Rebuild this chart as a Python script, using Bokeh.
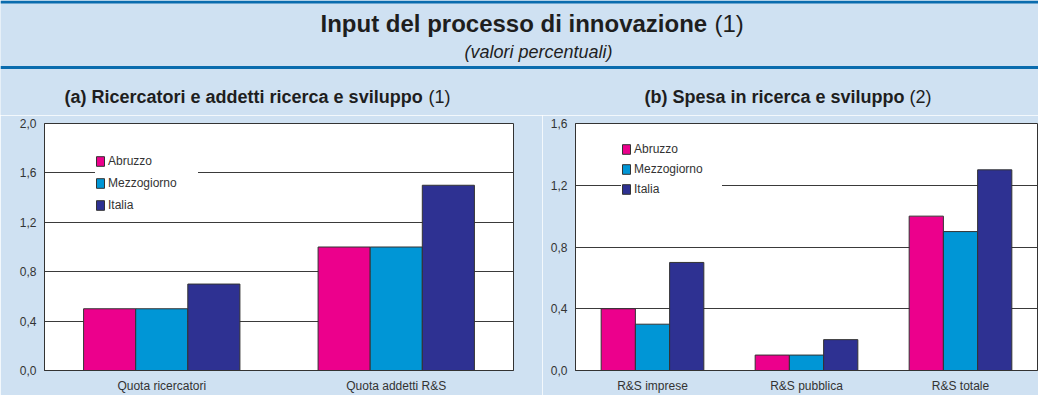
from bokeh.plotting import figure
from bokeh.models import (Range1d, FactorRange, FixedTicker, CustomJSTickFormatter,
                          Legend, LegendItem, Label, Span, ColumnDataSource)
from bokeh.transform import dodge
from bokeh.layouts import column, row
from bokeh.embed import file_html
from bokeh.resources import INLINE

# ---------------- data ----------------
series = ["Abruzzo", "Mezzogiorno", "Italia"]
series_colors = ["#EC008C", "#0096D6", "#2E3192"]

cats_a = ["Quota ricercatori", "Quota addetti R&S"]
abruzzo_a = [0.5, 1.0]
mezzogiorno_a = [0.5, 1.0]
italia_a = [0.7, 1.5]
ticks_a = [0.0, 0.4, 0.8, 1.2, 1.6, 2.0]

cats_b = ["R&S imprese", "R&S pubblica", "R&S totale"]
abruzzo_b = [0.4, 0.1, 1.0]
mezzogiorno_b = [0.3, 0.1, 0.9]
italia_b = [0.7, 0.2, 1.3]
ticks_b = [0.0, 0.4, 0.8, 1.2, 1.6]

main_title = "Input del processo di innovazione"
main_note = "(1)"
subtitle = "(valori percentuali)"
title_a = "(a) Ricercatori e addetti ricerca e sviluppo"
note_a = "(1)"
title_b = "(b) Spesa in ricerca e sviluppo"
note_b = "(2)"

# ---------------- style ----------------
BG = "#CFE1F2"
BLUE = "#0A6CAE"
DARK = "#333333"
TXT = "#1E1E1E"
FONT = "Liberation Sans"


def make_panel(cats, a, m, i, ticks, width, left, right, leg_xy, leg_pad, leg_spacing, leg_label_w):
    src = ColumnDataSource(data=dict(cat=cats, Abruzzo=a, Mezzogiorno=m, Italia=i))
    p = figure(x_range=FactorRange(factors=cats), y_range=Range1d(ticks[0], ticks[-1]),
               width=width, height=280, min_border_left=left, min_border_right=right,
               min_border_top=8, min_border_bottom=22,
               toolbar_location=None, output_backend="svg")
    p.background_fill_color = "white"
    p.border_fill_color = BG
    p.outline_line_color = DARK
    p.outline_line_width = 1

    bw = 2.0 / 9.0
    offsets = [-bw, 0.0, bw]
    items = []
    for s, c, off in zip(series, series_colors, offsets):
        r = p.vbar(x=dodge("cat", off, range=p.x_range), top=s, width=bw, source=src,
                   fill_color=c, line_color=DARK, line_width=1)
        items.append(LegendItem(label=s, renderers=[r]))

    leg = Legend(items=items, location=leg_xy, padding=leg_pad, spacing=leg_spacing,
                 margin=0, border_line_color=None, background_fill_color="white",
                 background_fill_alpha=1.0, glyph_width=10, glyph_height=12,
                 label_height=14, label_width=leg_label_w, label_standoff=3,
                 label_text_font=FONT, label_text_font_size="12px",
                 label_text_color=DARK)
    p.add_layout(leg)

    p.xgrid.visible = False
    p.ygrid.ticker = FixedTicker(ticks=ticks)
    p.ygrid.grid_line_color = "#3a3a3a"
    p.ygrid.grid_line_width = 1

    p.yaxis.ticker = FixedTicker(ticks=ticks)
    p.yaxis.formatter = CustomJSTickFormatter(code="return tick.toFixed(1).replace('.', ',');")
    p.yaxis.major_tick_out = 0
    p.yaxis.major_tick_in = 0
    p.yaxis.minor_tick_out = 0
    p.yaxis.minor_tick_in = 0
    p.yaxis.major_label_standoff = 8
    p.yaxis.axis_line_color = DARK

    p.xaxis.major_tick_out = 0
    p.xaxis.major_tick_in = 0
    p.xaxis.major_label_standoff = 8
    p.xaxis.axis_line_color = DARK

    for ax in (p.xaxis, p.yaxis):
        ax.major_label_text_font = FONT
        ax.major_label_text_font_size = "12px"
        ax.major_label_text_color = DARK
    return p


pa = make_panel(cats_a, abruzzo_a, mezzogiorno_a, italia_a, ticks_a,
                width=542, left=44, right=29, leg_xy=(51, 158), leg_pad=8,
                leg_spacing=8, leg_label_w=90)
pb = make_panel(cats_b, abruzzo_b, mezzogiorno_b, italia_b, ticks_b,
                width=496, left=33, right=1, leg_xy=(46, 174), leg_pad=16,
                leg_spacing=6, leg_label_w=88)

# ---------------- header ----------------
h = figure(width=1038, height=115, x_range=Range1d(0, 1038), y_range=Range1d(115, 0),
           min_border=0, toolbar_location=None, output_backend="svg")
h.axis.visible = False
h.grid.visible = False
h.outline_line_color = None
h.background_fill_color = BG
h.border_fill_color = BG

h.add_layout(Span(location=1.5, dimension="width", line_color=BLUE, line_width=3))
h.add_layout(Span(location=67, dimension="width", line_color=BLUE, line_width=3))


def lab(x, y, text, size, style="normal", align="left"):
    h.add_layout(Label(x=x, y=y, text=text, text_font=FONT, text_font_size=size,
                       text_font_style=style, text_color=TXT, text_align=align,
                       text_baseline="middle"))


lab(320, 23, main_title, "24px", "bold")
lab(714, 23, main_note, "24px")
lab(538, 51, subtitle, "18px", "italic", "center")
lab(64, 96, title_a, "18px", "bold")
lab(428, 96, note_a, "18px")
lab(644, 96, title_b, "18px", "bold")
lab(909, 96, note_b, "18px")

layout = column(h, row(pa, pb, spacing=0), spacing=0)

open("out.html", "w").write(file_html(layout, INLINE))
